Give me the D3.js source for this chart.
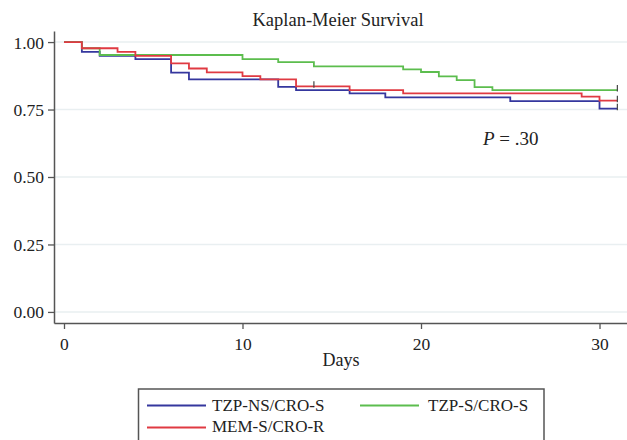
<!DOCTYPE html>
<html>
<head>
<meta charset="utf-8">
<script src="https://cdn.jsdelivr.net/npm/d3@7"></script>
<style>
  html, body { margin: 0; padding: 0; background: #fff; }
  svg text { font-family: 'Liberation Serif', 'Times New Roman', serif !important; }
</style>
</head>
<body>
<svg id="chart" width="627" height="440"></svg>
<script>
// ---- data ----
const seriesNames = ["TZP-NS/CRO-S", "TZP-S/CRO-S", "MEM-S/CRO-R"];
const timesBlue  = [0, 1, 2, 4, 6, 7, 12, 13, 16, 18, 25, 30];
const survBlue   = [1.00, 0.964, 0.949, 0.937, 0.887, 0.862, 0.834, 0.822, 0.810, 0.795, 0.781, 0.753];
const timesGreen = [0, 1, 2, 10, 12, 14, 19, 20, 21, 22, 23, 24];
const survGreen  = [1.00, 0.977, 0.952, 0.937, 0.926, 0.910, 0.899, 0.889, 0.873, 0.859, 0.833, 0.822];
const timesRed   = [0, 1, 3, 4, 6, 7, 8, 10, 11, 13, 16, 19, 29, 30];
const survRed    = [1.00, 0.977, 0.964, 0.949, 0.921, 0.902, 0.888, 0.874, 0.862, 0.836, 0.822, 0.810, 0.798, 0.783];
const endTime = 31;
const censorRed = [14];
const xTicks = [0, 10, 20, 30];
const yTicks = [0, 0.25, 0.5, 0.75, 1.0];
const titleText = "Kaplan-Meier Survival";
const xLabel = "Days";
const colors = ["#35379e", "#5cbd4e", "#e03a42"];

const FONT = "'Liberation Serif', 'Times New Roman', serif";
const svg = d3.select("#chart");
const x = d3.scaleLinear().domain([-0.56, 31.54]).range([54, 627]);
const y = d3.scaleLinear().domain([-0.041, 1.041]).range([323, 31]);

// gridlines
svg.append("g").selectAll("line").data(yTicks).join("line")
  .attr("x1", 55).attr("x2", 627)
  .attr("y1", d => y(d)).attr("y2", d => y(d))
  .attr("stroke", "#e9eff1").attr("stroke-width", 1.5);

// y axis
const yAxis = svg.append("g").attr("transform", "translate(54,0)")
  .call(d3.axisLeft(y).tickValues(yTicks).tickFormat(d3.format(".2f")).tickSize(6).tickSizeOuter(0));
yAxis.attr("font-family", null);
yAxis.select(".domain").attr("stroke", "#555").attr("stroke-width", 1.5);
yAxis.selectAll(".tick line").attr("stroke", "#555").attr("stroke-width", 1.3);
yAxis.selectAll(".tick text").style("font-family", FONT).attr("font-size", 17.5)
  .attr("fill", "#222").attr("x", -10).attr("dy", "0.34em");

// x axis
const xAxis = svg.append("g").attr("transform", "translate(0,323)")
  .call(d3.axisBottom(x).tickValues(xTicks).tickFormat(d3.format("d")).tickSize(6).tickSizeOuter(0));
xAxis.attr("font-family", null);
xAxis.select(".domain").attr("stroke", "#555").attr("stroke-width", 1.5);
xAxis.selectAll(".tick line").attr("stroke", "#555").attr("stroke-width", 1.3);
xAxis.selectAll(".tick text").style("font-family", FONT).attr("font-size", 17.5)
  .attr("fill", "#222").attr("y", 15);

// title and axis label
svg.append("text").attr("x", 338).attr("y", 26).attr("text-anchor", "middle").style("font-family", FONT)
  .attr("font-size", 18.5).attr("fill", "#222").text(titleText);
svg.append("text").attr("x", 341).attr("y", 366).attr("text-anchor", "middle").style("font-family", FONT)
  .attr("font-size", 18).attr("fill", "#222").text(xLabel);

// curves
const line = d3.line().x(d => x(d[0])).y(d => y(d[1])).curve(d3.curveStepAfter);
const seriesData = [
  { times: timesBlue, surv: survBlue, color: colors[0], censor: [] },
  { times: timesGreen, surv: survGreen, color: colors[1], censor: [] },
  { times: timesRed, surv: survRed, color: colors[2], censor: censorRed }
];
function survAt(s, t) {
  let v = s.surv[0];
  s.times.forEach((tt, i) => { if (tt <= t) v = s.surv[i]; });
  return v;
}
seriesData.forEach(s => {
  const pts = s.times.map((t, i) => [t, s.surv[i]]);
  pts.push([endTime, s.surv[s.surv.length - 1]]);
  svg.append("path").datum(pts).attr("d", line)
    .attr("fill", "none").attr("stroke", s.color).attr("stroke-width", 1.8);
});
// censor ticks
seriesData.forEach(s => {
  const cs = s.censor.concat([endTime]);
  cs.forEach(t => {
    const v = survAt(s, t);
    svg.append("line").attr("x1", x(t)).attr("x2", x(t))
      .attr("y1", y(v) - 5).attr("y2", y(v) + 1.5)
      .attr("stroke", "#444").attr("stroke-width", 1.2);
  });
});

// P value
const pt = svg.append("text").attr("x", 483).attr("y", 145).style("font-family", FONT)
  .attr("font-size", 19).attr("fill", "#222");
pt.append("tspan").attr("font-style", "italic").text("P");
pt.append("tspan").text(" = .30");

// legend
svg.append("rect").attr("x", 138.5).attr("y", 389).attr("width", 405.5).attr("height", 70)
  .attr("fill", "#fff").attr("stroke", "#555").attr("stroke-width", 1.5);
const legendPos = [
  { lx: 147, ly: 405.5, tx: 212, ty: 410.5 },
  { lx: 360, ly: 405.5, tx: 428, ty: 410.5 },
  { lx: 147, ly: 427.5, tx: 212, ty: 432 }
];
seriesNames.forEach((n, i) => {
  const p = legendPos[i];
  svg.append("line").attr("x1", p.lx).attr("x2", p.lx + 59).attr("y1", p.ly).attr("y2", p.ly)
    .attr("stroke", colors[i]).attr("stroke-width", 1.8);
  svg.append("text").attr("x", p.tx).attr("y", p.ty).style("font-family", FONT)
    .attr("font-size", 17).attr("fill", "#222").text(n);
});
</script>
</body>
</html>
